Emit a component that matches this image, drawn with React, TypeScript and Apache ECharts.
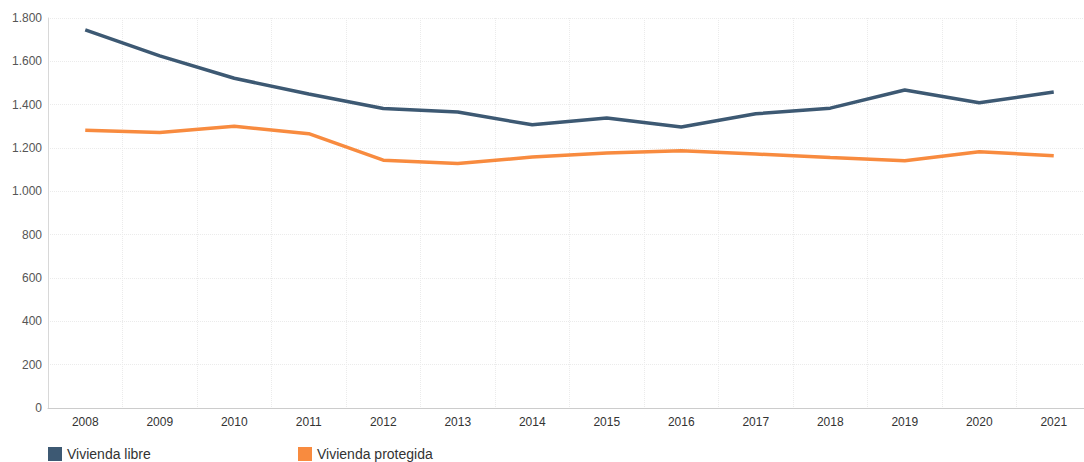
import React, { useEffect, useRef } from "react";
import * as echarts from "echarts";

const years = ["2008", "2009", "2010", "2011", "2012", "2013", "2014", "2015", "2016", "2017", "2018", "2019", "2020", "2021"];
const viviendaLibre = [1745, 1625, 1522, 1449, 1382, 1366, 1307, 1338, 1297, 1358, 1384, 1468, 1409, 1458];
const viviendaProtegida = [1282, 1271, 1300, 1266, 1144, 1128, 1158, 1177, 1187, 1172, 1156, 1141, 1183, 1164];
const seriesNames = ["Vivienda libre", "Vivienda protegida"];
const seriesColors = ["#3d5973", "#f88b3f"];

export default function App() {
  const ref = useRef<HTMLDivElement>(null);
  useEffect(() => {
    if (!ref.current) return;
    const chart = echarts.init(ref.current, undefined, { renderer: "svg" });
    const legendBase = {
      top: 447,
      padding: 0,
      itemWidth: 14,
      itemHeight: 14,
      itemGap: 0,
      icon: "rect",
      textStyle: { fontSize: 14, color: "#333" },
    };
    chart.setOption({
      animation: false,
      color: seriesColors,
      textStyle: { fontFamily: "Liberation Sans, Arial, sans-serif" },
      grid: { left: 48, right: 0, top: 18, bottom: 54, containLabel: false },
      legend: [
        { ...legendBase, left: 48, data: [seriesNames[0]] },
        { ...legendBase, left: 298, data: [seriesNames[1]] },
      ],
      xAxis: {
        type: "category",
        data: years,
        boundaryGap: true,
        axisLine: { lineStyle: { color: "#cccccc", width: 1 } },
        axisTick: { show: false },
        axisLabel: { color: "#333", fontSize: 12, margin: 8 },
        splitLine: { show: true, interval: 0, lineStyle: { color: "#ebebeb", type: "dotted" } },
      },
      yAxis: {
        type: "value",
        min: 0,
        max: 1800,
        interval: 200,
        axisLine: { show: true, lineStyle: { color: "#d8d8d8" } },
        axisTick: { show: false },
        axisLabel: {
          color: "#555",
          fontSize: 12,
          margin: 6,
          formatter: (v: number) => v.toString().replace(/\B(?=(\d{3})+(?!\d))/g, "."),
        },
        splitLine: { show: true, lineStyle: { color: "#ebebeb", type: "dotted" } },
      },
      series: [
        {
          name: seriesNames[0],
          type: "line",
          data: viviendaLibre,
          showSymbol: false,
          symbol: "none",
          lineStyle: { width: 3.5, color: seriesColors[0] },
        },
        {
          name: seriesNames[1],
          type: "line",
          data: viviendaProtegida,
          showSymbol: false,
          symbol: "none",
          lineStyle: { width: 3.5, color: seriesColors[1] },
        },
      ],
    });
    return () => chart.dispose();
  }, []);
  return (
    <div style={{ position: "absolute", left: 0, top: 0, width: 1084, height: 462, overflow: "hidden", background: "#fff" }}>
      <div ref={ref} style={{ width: 1091, height: 462 }} />
    </div>
  );
}
